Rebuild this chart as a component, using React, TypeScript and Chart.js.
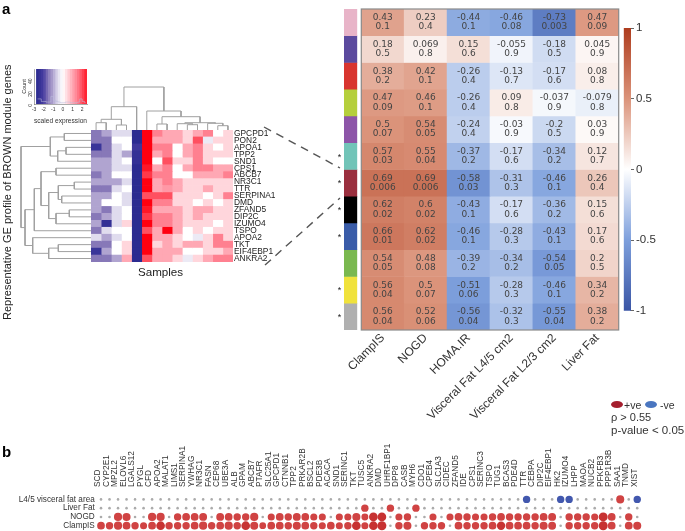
import React, { useEffect, useRef } from "react";
import { Chart, registerables } from "chart.js";

Chart.register(...registerables);

/* ---------- panel a, gene heat map ---------- */
const genes = ["GPCPD1","PON2","APOA1","TPP2","SND1","CPS1","ABCB7","NR3C1","TTR","SERPINA1","DMD","ZFAND5","DIP2C","IZUMO4","TSPO","APOA2","TKT","EIF4EBP1","ANKRA2"];
const expression = [
  [-1.5,-1,-.5,-.5,-2.7,3,1.5,1,1,.5,1,1.5,0,.5],
  [-1.5,-1.5,0,0,-2.7,3,1,1,1,.5,2,-.3,.5,.5],
  [-2.3,-1.5,-.5,0,-2.2,3,1.5,1.5,0,1,1.5,.5,0,.5],
  [-1.5,-1.5,-.5,-1,-2.5,3,1,1.5,0,1,1.5,.5,.5,.5],
  [-1,-1,-.5,0,-2.5,3,0,2,.5,.5,1.5,.5,0,0],
  [-1,-1,-.5,-.5,-2.7,2.5,1,1.5,0,1,1.5,1.5,1,1],
  [-1.5,-1,0,0,-2.7,2.2,1.5,1.5,0,0,1,1,1,1.5],
  [-1,-1,-1,-.5,-2.7,3,1,1.5,1,.5,.5,.5,.5,.5],
  [-1.5,-1.5,-.5,0,-2.7,3,1,1.2,1,.5,.5,1,.5,.5],
  [-1,-1,0,-.5,-2.7,2,2,2,.5,.5,.5,0,.5,1.5],
  [-1,0,0,-.5,-2.7,3,1.5,1.5,.5,.5,0,.5,0,.5],
  [-1,-1.5,-.5,0,-2.7,2.5,1,1,1,.5,1,1,.5,.5],
  [-1.5,-1,-.5,0,-2.7,2.2,1.5,1.5,1,.5,1,.5,.5,.5],
  [-1,-2.5,-.5,.5,-2.7,2.7,1.5,1.5,1,.5,.5,.5,0,.5],
  [-1.5,-.5,0,0,-2.7,2,1,2.8,1,0,.5,0,.5,.5],
  [-.5,-1,-.5,0,-2.7,3,1,1,.5,0,-.3,.5,1.5,.5],
  [-1.5,-1.5,0,.5,-2.7,3,.5,1,.5,1,1,.5,1.5,1.5],
  [-2.3,-1,0,.5,-2.7,3,1,1,1,0,0,.5,.5,1],
  [-1.5,-1.5,-1,1,-2.7,2,1,1,.5,-.3,.5,1,1.5,1.5],
];
// dendrograms: [height, left branch, right branch]; a number is a leaf index
const rowTree: any = [70,
  [40.7, [26.7,0,1], [33.3,[25,2,3],4]],
  [66,
    [56.7,
      [50, [35,5,6], [42.3, [32.7,[16.7,7,8],[29.3,9,10]], [35,[21.7,11,12],13]]],
      14],
    [58.3, 15, [42.3,[32.7,16,17],18]]]];
const colTree: any = [43,
  [23.3, [10.7,[7.3,0,1],[5,2,3]], 4],
  [19, 5, [13.3,[6,6,7],[7.3,[6.3,8,[5.3,9,10]],[6.7,11,[4.3,12,13]]]]]];

/* ---------- colour key ---------- */
const keyBins = [-2.625,-2.375,-2.125,-1.875,-1.625,-1.375,-1.125,-0.875,-0.625,-0.375,-0.125,0.125,0.375,0.625,0.875,1.125,1.375,1.625,1.875,2.125,2.375];
const keyCounts = [8,8,4,4,3,3,12,6,4,3,2,2,3,3,2,2,2,3,8,4,2];

/* ---------- panel a, module correlation ---------- */
const traits = ["ClampIS","NOGD","HOMA.IR","Visceral Fat L4/5 cm2","Visceral Fat L2/3 cm2","Liver Fat"];
const moduleColours = ["#e8b4c8","#5b4a9e","#d8352f","#b5cf3c","#8d55a8","#72c4b8","#9a2f3e","#000000","#3a5ca8","#7ab84f","#f0e23c","#b0b0b0"];
const rho = [
  [.43,.23,-.44,-.46,-.73,.47],
  [.18,.069,.15,-.055,-.18,.045],
  [.38,.42,-.26,-.13,-.17,.08],
  [.47,.46,-.26,.09,-.037,-.079],
  [.5,.54,-.24,-.03,-.2,.03],
  [.57,.55,-.37,-.17,-.34,.12],
  [.69,.69,-.58,-.31,-.46,.26],
  [.62,.6,-.43,-.17,-.36,.15],
  [.66,.62,-.46,-.28,-.43,.17],
  [.54,.48,-.39,-.34,-.54,.2],
  [.56,.5,-.51,-.28,-.46,.34],
  [.56,.52,-.56,-.32,-.55,.38],
];
const pValues = [
  [.1,.4,.1,.08,.003,.09],
  [.5,.8,.6,.9,.5,.9],
  [.2,.1,.4,.7,.6,.8],
  [.09,.1,.4,.8,.9,.8],
  [.07,.05,.4,.9,.5,.9],
  [.03,.04,.2,.6,.2,.7],
  [.006,.006,.03,.3,.1,.4],
  [.02,.02,.1,.6,.2,.6],
  [.01,.02,.1,.3,.1,.6],
  [.05,.08,.2,.2,.05,.5],
  [.04,.07,.06,.3,.1,.2],
  [.04,.06,.04,.3,.04,.2],
];
const starredRows = [5,6,7,8,10,11];

/* ---------- panel b ---------- */
const panelGenes = ["SCD","CYP2E1","MPZL2","ELOVL6","LGALS12","PYGL","CFD","APOA2","MALAT1","LIMS1","SERPINA1","YWHAG","NR3C1","FASN","CEP68","UBE3A","ALB","GPAM","ABCB7","PTAFR","SLC25A1","GPCPD1","CTNNB1","TPP2","PRKAR2B","BSCL2","PDE3B","ACACA","SND1","SERINC1","TKT","TUSC5","ANKRA2","DMD","UHRF1BP1","DPP8","CASB","MYH6","CDO1","CPEB4","SLC1A3","CIDEC","ZFAND5","IDE","CPS1","SERINC3","TSPO","TUG1","BCAS3","PDE4D","TTR","CEBPA","DIP2C","EIF4EBP1","HK2","IZUMO4","LHPP","MAOA","NUCB2","PFKFB3","PPP1R3B","SAA1","TNMD","XIST"];
const panelRows = ["L4/5 visceral fat area","Liver Fat","NOGD","ClampIS"];
const visceralL45 = [0,0,0,0,0,0,0,0,0,0,0,0,0,0,0,0,0,0,0,0,0,0,0,0,0,0,0,0,0,0,0,0,0,0,0,0,0,0,0,0,0,0,0,0,0,0,0,0,0,0,-.6,0,0,0,-.6,-.6,0,0,0,0,0,.64,0,-.6];
const liverFat = [0,0,0,0,0,0,0,0,0,0,0,0,0,0,0,0,0,0,0,0,0,0,0,0,0,0,0,0,0,0,0,.6,0,0,.6,0,0,.6,0,0,0,0,0,0,0,0,0,0,0,0,0,0,0,0,0,0,0,0,0,0,0,0,0,0];
const nogd = [0,0,.65,.64,0,0,.65,.65,0,.6,.62,.62,.63,0,.63,.62,.6,.6,.65,0,.58,.62,.6,.63,.62,.58,.58,0,.58,.58,.64,.57,.68,.68,0,.58,.6,0,0,.58,0,.58,.62,.6,.58,.58,.6,.62,.6,.6,.6,.6,.62,.63,0,.6,.6,.6,.58,.7,.62,0,.6,0];
const clampIS = [.62,.6,.65,.62,.6,.58,.62,.68,.6,.6,.6,.62,.65,.6,.62,.65,.6,.68,.64,.56,.62,.62,.6,.64,.62,.6,.58,.62,.58,.6,.68,.58,.68,.7,0,.6,.64,0,.6,.6,.6,0,.62,.6,.6,.6,.62,.66,.62,.62,.62,.6,.64,.63,0,.6,.6,.6,.6,.7,.62,0,.62,.64];
const panelValues = [visceralL45, liverFat, nogd, clampIS];

/* ---------- helpers ---------- */
type Stop = [number, number[]];
const ramp = (stops: Stop[], v: number) => {
  if (v <= stops[0][0]) return `rgb(${stops[0][1].join(",")})`;
  for (let i = 1; i < stops.length; i++) {
    if (v <= stops[i][0]) {
      const t = (v - stops[i-1][0]) / (stops[i][0] - stops[i-1][0]);
      const c = stops[i-1][1].map((a, k) => Math.round(a + (stops[i][1][k] - a) * t));
      return `rgb(${c.join(",")})`;
    }
  }
  return `rgb(${stops[stops.length-1][1].join(",")})`;
};
const exprStops: Stop[] = [[-2.7,[43,43,144]],[-2,[70,60,160]],[-1.5,[135,120,184]],[-1,[176,164,208]],[-.5,[224,220,238]],[0,[255,255,255]],[.5,[255,214,220]],[1,[255,168,180]],[1.5,[255,128,144]],[2,[255,80,96]],[2.7,[255,0,16]]];
const corrStops: Stop[] = [[-1,[58,85,165]],[-.5,[125,159,220]],[0,[255,255,255]],[.5,[219,147,122]],[1,[174,60,30]]];
const exprColour = (v: number) => ramp(exprStops, v);
const corrColour = (v: number) => ramp(corrStops, v);

const LS = "'Liberation Sans', Arial, sans-serif";
const base = (padding: any) => ({
  animation: false as const,
  responsive: false,
  devicePixelRatio: 1,
  layout: { padding },
  plugins: { legend: { display: false }, tooltip: { enabled: false }, title: { display: false } },
});
const hidden = { display: false };
const noGrid = { display: false, drawTicks: false };

function dendrogram(tree: any) {
  const segments: { pos: number; h: number }[][] = [];
  const walk = (n: any): { pos: number; h: number } => {
    if (typeof n === "number") return { pos: n + 0.5, h: 0 };
    const a = walk(n[1]);
    const b = walk(n[2]);
    segments.push([a, { pos: a.pos, h: n[0] }, { pos: b.pos, h: n[0] }, b]);
    return { pos: (a.pos + b.pos) / 2, h: n[0] };
  };
  walk(tree);
  return segments;
}
const dendroDatasets = (tree: any, map: (p: { pos: number; h: number }) => any) =>
  dendrogram(tree).map((s) => ({
    data: s.map(map), showLine: true, pointRadius: 0, borderColor: "#a0a0a0", borderWidth: 1, clip: false as const,
  }));

function Panel({ left, top, width, height, config }: any) {
  const ref = useRef<HTMLCanvasElement>(null);
  useEffect(() => {
    const c = new Chart(ref.current as HTMLCanvasElement, config());
    return () => c.destroy();
  }, []);
  return (
    <div style={{ position: "absolute", left, top, width, height }}>
      <canvas ref={ref} width={width} height={height} style={{ display: "block" }} />
    </div>
  );
}

/* ---------- chart configurations ---------- */
const geneHeat = () => ({
  type: "bar" as const,
  data: {
    labels: genes,
    datasets: expression[0].map((_, c) => ({
      data: genes.map(() => [c, c + 1]),
      backgroundColor: expression.map((row) => exprColour(row[c])),
      barPercentage: 1, categoryPercentage: 1, grouped: false,
    })),
  },
  options: {
    ...base({ left: 6, top: 10, bottom: 8, right: 0 }),
    indexAxis: "y" as const,
    scales: {
      x: { ...hidden, min: 0, max: 14 },
      y: {
        position: "right" as const,
        grid: noGrid, border: { display: false },
        ticks: { autoSkip: false, padding: 1, font: { family: LS, size: 8.4 }, color: "#222" },
        afterFit: (a: any) => { a.width = 42; },
      },
    },
  },
});
const rowDendro = () => ({
  type: "scatter" as const,
  data: { datasets: dendroDatasets(rowTree, (p) => ({ x: p.h, y: p.pos })) },
  options: { ...base(0), scales: { x: { ...hidden, type: "linear" as const, min: 0, max: 73, reverse: true }, y: { ...hidden, min: 0, max: 19, reverse: true } } },
});
const colDendro = () => ({
  type: "scatter" as const,
  data: { datasets: dendroDatasets(colTree, (p) => ({ x: p.pos, y: p.h })) },
  options: { ...base(0), scales: { x: { ...hidden, type: "linear" as const, min: 0, max: 14 }, y: { ...hidden, min: 0, max: 44 } } },
});
const colourKey = () => ({
  type: "bar" as const,
  data: {
    datasets: [
      { type: "line" as const, data: keyBins.map((x, i) => ({ x, y: keyCounts[i] })), stepped: "middle" as const, borderColor: "rgba(190,190,220,0.8)", borderWidth: 0.7, pointRadius: 0 },
      { data: keyBins.map((x) => ({ x, y: 55 })), backgroundColor: keyBins.map(exprColour), barPercentage: 1, categoryPercentage: 1 },
    ],
  },
  options: {
    ...base({ left: 0, top: 9, right: 8, bottom: 0 }),
    scales: {
      x: {
        type: "linear" as const, min: -3, max: 2.5, offset: false,
        grid: { display: false, drawTicks: true, tickLength: 2, offset: false }, border: { color: "#555", width: 0.5 },
        ticks: { stepSize: 1, includeBounds: false, padding: 1, font: { family: LS, size: 5 }, color: "#333", maxRotation: 0 },
        title: { display: true, text: "scaled expression", font: { family: LS, size: 7.4 }, color: "#333", padding: { top: 3, bottom: 0 } },
        afterFit: (a: any) => { a.height = 21; },
      },
      y: {
        min: 0, max: 55,
        grid: { display: false, tickLength: 2 }, border: { color: "#555", width: 0.5 },
        ticks: { stepSize: 20, includeBounds: false, minRotation: 90, maxRotation: 90, padding: 1, font: { family: LS, size: 5 }, color: "#333" },
        title: { display: true, text: "Count", font: { family: LS, size: 5.5 }, color: "#333", padding: 0 },
        afterFit: (a: any) => { a.width = 13; },
      },
    },
  },
});
const moduleStrip = () => ({
  type: "bar" as const,
  data: {
    labels: ["module"],
    datasets: moduleColours.map((col, r) => ({
      data: [[r, r + 1]], backgroundColor: col, barPercentage: 1, categoryPercentage: 1, grouped: false,
    })),
  },
  options: {
    ...base({ left: 10, right: 0.7, top: 9, bottom: 10 }),
    scales: { x: hidden, y: { ...hidden, min: 0, max: 12, reverse: true } },
  },
  plugins: [{
    id: "stars",
    afterDatasetsDraw(chart: any) {
      const { ctx, scales } = chart;
      ctx.save();
      ctx.fillStyle = "#222";
      ctx.font = `9px ${LS}`;
      ctx.textAlign = "center";
      ctx.textBaseline = "middle";
      starredRows.forEach((r) => ctx.fillText("*", 5.5, scales.y.getPixelForValue(r + 0.5) + 1));
      ctx.restore();
    },
  }],
});
const corrHeat = () => ({
  type: "bar" as const,
  data: {
    labels: traits,
    datasets: rho.map((row, r) => ({
      data: row.map(() => [r, r + 1]),
      backgroundColor: row.map(corrColour),
      barPercentage: 1, categoryPercentage: 1, grouped: false,
    })),
  },
  options: {
    ...base({ left: 61.3, right: 1.3, top: 9, bottom: 0 }),
    scales: {
      x: {
        grid: noGrid, border: { display: false },
        ticks: { autoSkip: false, minRotation: 45, maxRotation: 45, padding: 1, font: { family: LS, size: 12 }, color: "#333" },
        afterFit: (a: any) => { a.height = 100; },
      },
      y: { ...hidden, min: 0, max: 12, reverse: true },
    },
  },
  plugins: [{
    id: "cellText",
    afterDatasetsDraw(chart: any) {
      const { ctx, scales, chartArea: ca } = chart;
      ctx.save();
      ctx.strokeStyle = "#8a8a8a";
      ctx.lineWidth = 1.2;
      ctx.strokeRect(ca.left, ca.top, ca.right - ca.left, ca.bottom - ca.top);
      ctx.fillStyle = "#444";
      ctx.font = "9px 'DejaVu Sans'";
      ctx.textAlign = "center";
      ctx.textBaseline = "middle";
      rho.forEach((row, r) => row.forEach((v, c) => {
        const x = scales.x.getPixelForTick(c);
        const y = scales.y.getPixelForValue(r + 0.5);
        ctx.fillText(String(v), x, y - 4.7);
        ctx.fillText(String(pValues[r][c]), x, y + 4.7);
      }));
      ctx.restore();
    },
  }],
});
const colourBar = () => ({
  type: "bar" as const,
  data: {
    labels: ["rho"],
    datasets: [{
      data: [[-1, 1]], barPercentage: 1, categoryPercentage: 1,
      backgroundColor: (c: any) => {
        const a = c.chart.chartArea;
        if (!a) return "#fff";
        const g = c.chart.ctx.createLinearGradient(0, a.bottom, 0, a.top);
        corrStops.forEach(([v, col]) => g.addColorStop((v + 1) / 2, `rgb(${col.join(",")})`));
        return g;
      },
    }],
  },
  options: {
    ...base({ left: 3.7, right: 0, top: 13, bottom: 14.3 }),
    scales: {
      x: hidden,
      y: {
        position: "right" as const, min: -1, max: 1,
        grid: { drawOnChartArea: false, tickLength: 3, color: "#666" }, border: { color: "#888" },
        ticks: { stepSize: 0.5, padding: 2, font: { family: LS, size: 11.5 }, color: "#333", callback: (v: any) => String(v) },
        afterFit: (a: any) => { a.width = 54; },
      },
    },
  },
});
const dotMatrix = () => ({
  type: "scatter" as const,
  data: {
    datasets: panelValues.map((vals, r) => ({
      data: vals.map((_, i) => ({ x: panelGenes[i], y: panelRows[r] })),
      pointRadius: vals.map((v) => (v === 0 ? 1.3 : 3.3 + (Math.abs(v) - 0.55) * 8)),
      backgroundColor: vals.map((v) => (v === 0 ? "#ababab" : v < 0 ? "#4258ae" : v >= 0.66 ? "#c73232" : "#d04343")),
      borderWidth: 0,
    })),
  },
  options: {
    ...base({ left: 0, right: 43.5, top: 0, bottom: 5.5 }),
    scales: {
      x: {
        type: "category" as const, labels: panelGenes, position: "top" as const, offset: true,
        grid: noGrid, border: { display: false },
        ticks: { autoSkip: false, minRotation: 90, maxRotation: 90, padding: 8, labelOffset: 7, font: { family: LS, size: 8.3 }, color: "#333" },
        afterFit: (a: any) => { a.height = 55; },
      },
      y: {
        type: "category" as const, labels: panelRows, offset: true,
        grid: noGrid, border: { display: false },
        ticks: { autoSkip: false, padding: 2, font: { family: LS, size: 8.2 }, color: "#333" },
        afterFit: (a: any) => { a.width = 96.75; },
      },
    },
  },
});
const connectors = () => ({
  type: "scatter" as const,
  data: {
    datasets: [
      [{ x: 264, y: 127 }, { x: 340, y: 168 }],
      [{ x: 265, y: 265 }, { x: 340, y: 198 }],
    ].map((data) => ({ data, showLine: true, pointRadius: 0, borderColor: "#555", borderWidth: 1.4, borderDash: [8, 6] })),
  },
  options: {
    ...base(0),
    scales: { x: { ...hidden, type: "linear" as const, min: 0, max: 685 }, y: { ...hidden, min: 0, max: 531, reverse: true } },
  },
});

const label = (text: string, left: number, top: number, style: any = {}) => (
  <div style={{ position: "absolute", left, top, fontFamily: LS, fontSize: 11, lineHeight: 1, color: "#222", whiteSpace: "nowrap", ...style }}>{text}</div>
);
const oval = (left: number, top: number, background: string) => (
  <div style={{ position: "absolute", left, top, width: 12, height: 7, borderRadius: "50%", background }} />
);

export default function App() {
  return (
    <div style={{ position: "fixed", left: 0, top: 0, width: 685, height: 531, background: "#fff", overflow: "hidden", filter: "blur(0.35px)" }}>
      <Panel left={85} top={120} width={190} height={150} config={geneHeat} />
      <Panel left={18} top={130} width={73} height={132} config={rowDendro} />
      <Panel left={91} top={86} width={142} height={44} config={colDendro} />
      <Panel left={21} top={60} width={74} height={65} config={colourKey} />
      <Panel left={334} top={0} width={24} height={340} config={moduleStrip} />
      <Panel left={300} top={0} width={320} height={430} config={corrHeat} />
      <Panel left={620} top={15} width={65} height={310} config={colourBar} />
      <Panel left={0} top={440} width={685} height={97} config={dotMatrix} />
      <Panel left={0} top={0} width={685} height={531} config={connectors} />
      {label("a", 2, 1, { fontWeight: 700, fontSize: 15, color: "#000" })}
      {label("b", 2, 444, { fontWeight: 700, fontSize: 15, color: "#000" })}
      {label("Representative GE profile of BROWN module genes", 2, 64, { writingMode: "vertical-rl", transform: "rotate(180deg)", fontSize: 11, height: 256, textAlign: "left" })}
      {label("Samples", 138, 266, { fontSize: 11.6 })}
      {oval(611, 401, "#a51f2e")}
      {label("+ve", 624, 400, { fontSize: 10.5, color: "#333" })}
      {oval(645, 401, "#4a76c0")}
      {label("-ve", 660, 400, { fontSize: 10.5, color: "#333" })}
      {label("\u03C1 > 0.55", 611, 412, { fontSize: 11, color: "#333" })}
      {label("p-value < 0.05", 611, 425, { fontSize: 11.5, color: "#333" })}
    </div>
  );
}
